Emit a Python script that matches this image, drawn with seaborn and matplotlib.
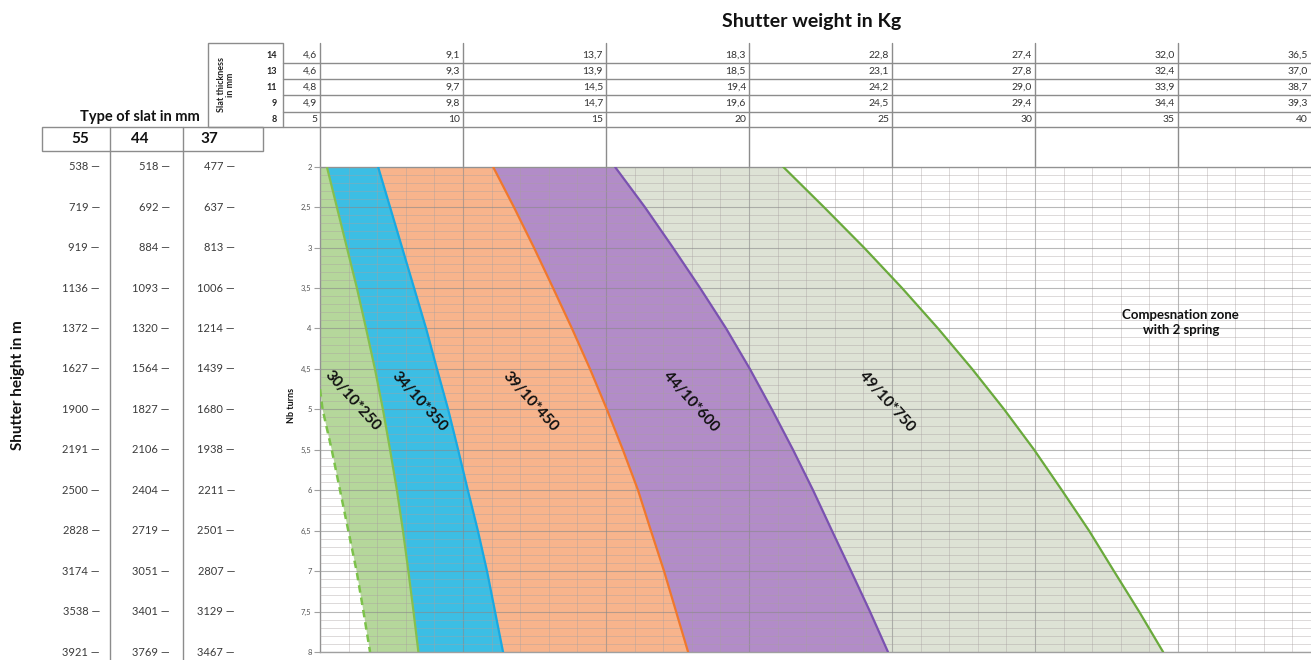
import matplotlib
matplotlib.use("Agg")
import matplotlib.pyplot as plt
import matplotlib.transforms as mtransforms
from matplotlib.patches import Rectangle
from matplotlib.ticker import MultipleLocator, FuncFormatter
import seaborn as sns

W, H = 1311, 660

# ---- data ----
# number of turns of the spring (y axis)
turns = [2, 2.5, 3, 3.5, 4, 4.5, 5, 5.5, 6, 6.5, 7, 7.5, 8]

# lower limit of the 30/10*250 spring (dashed line)
dash_turns = [4.75, 5, 5.5, 6, 6.5, 7, 7.5, 8]
dash_kg = [5.0, 5.09, 5.41, 5.70, 5.99, 6.28, 6.52, 6.75]

# upper limit of each spring: shutter weight (kg, 8 mm slat) per turns
kg_250 = [5.24, 5.59, 5.94, 6.29, 6.61, 6.92, 7.20, 7.45, 7.69, 7.90, 8.09, 8.27, 8.44]
kg_350 = [7.03, 7.45, 7.87, 8.29, 8.71, 9.09, 9.48, 9.83, 10.17, 10.52, 10.84, 11.12, 11.40]
kg_450 = [11.05, 11.78, 12.48, 13.15, 13.81, 14.44, 15.03, 15.59, 16.12, 16.57, 17.03, 17.45, 17.87]
kg_600 = [15.31, 16.36, 17.34, 18.29, 19.20, 20.03, 20.80, 21.54, 22.24, 22.90, 23.57, 24.23, 24.86]
kg_750 = [21.19, 22.62, 24.02, 25.35, 26.61, 27.80, 28.92, 29.97, 30.94, 31.89, 32.76, 33.64, 34.48]

spring_names = ["30/10*250", "34/10*350", "39/10*450", "44/10*600", "49/10*750"]

# shutter height (mm) for each slat type, one per turns value
slat_types = ["55", "44", "37"]
height_55 = [538, 719, 919, 1136, 1372, 1627, 1900, 2191, 2500, 2828, 3174, 3538, 3921]
height_44 = [518, 692, 884, 1093, 1320, 1564, 1827, 2106, 2404, 2719, 3051, 3401, 3769]
height_37 = [477, 637, 813, 1006, 1214, 1439, 1680, 1938, 2211, 2501, 2807, 3129, 3467]

# weight table on top (kg), per slat thickness (mm)
weight_cols = [5, 10, 15, 20, 25, 30, 35, 40]
slat_thickness = ["14", "13", "11", "9", "8"]
weight_14 = ["4,6", "9,1", "13,7", "18,3", "22,8", "27,4", "32,0", "36,5"]
weight_13 = ["4,6", "9,3", "13,9", "18,5", "23,1", "27,8", "32,4", "37,0"]
weight_11 = ["4,8", "9,7", "14,5", "19,4", "24,2", "29,0", "33,9", "38,7"]
weight_9 = ["4,9", "9,8", "14,7", "19,6", "24,5", "29,4", "34,4", "39,3"]
weight_8 = ["5", "10", "15", "20", "25", "30", "35", "40"]

# ---- style ----
sns.set_theme(style="white")
plt.rcParams['font.family'] = ['Lato', 'DejaVu Sans']

c_green_fill = "#b5d79b"
c_blue_fill = "#3cbee4"
c_orange_fill = "#f8b48c"
c_purple_fill = "#b28cc8"
c_grey_fill = "#dde2d5"
line_c = "#8c8c8c"

fig = plt.figure(figsize=(W / 100, H / 100), dpi=100)

# overlay in pixel coords for the side tables
ov = fig.add_axes([0, 0, 1, 1])
ov.set_xlim(0, W)
ov.set_ylim(H, 0)
ov.axis('off')

top_px, bot_px, left_px = 166.7, 652, 320
ax = fig.add_axes([left_px / W, (H - bot_px) / H, (W - left_px) / W, (bot_px - top_px) / H])
ax.set_xlim(5, 39.65)
ax.set_ylim(8, 2)

# bands between springs
green_x = [5.0, 5.0] + dash_kg + kg_250[::-1]
green_y = [2, 4.75] + dash_turns + turns[::-1]
ax.fill(green_x, green_y, color=c_green_fill, lw=0, zorder=1)
bands = [(kg_250, kg_350, c_blue_fill), (kg_350, kg_450, c_orange_fill),
         (kg_450, kg_600, c_purple_fill), (kg_600, kg_750, c_grey_fill)]
for lo, hi, col in bands:
    ax.fill_betweenx(turns, lo, hi, color=col, lw=0, zorder=1)

# spreadsheet-like grid
ax.xaxis.set_major_locator(MultipleLocator(5))
ax.xaxis.set_minor_locator(MultipleLocator(1))
ax.yaxis.set_major_locator(MultipleLocator(0.5))
ax.yaxis.set_minor_locator(MultipleLocator(0.1))
ax.set_axisbelow(False)
ax.grid(which='minor', color='#a89f9f', lw=0.6, alpha=0.45)
ax.grid(which='major', color='#8a8a8a', lw=0.8, alpha=0.6)

# boundary lines
sns.lineplot(x=dash_kg, y=dash_turns, orient="y", sort=False, errorbar=None, ax=ax,
             color="#7cc24a", lw=1.8, linestyle=(0, (3, 2)), zorder=3)
curves = [(kg_250, "#86c04e"), (kg_350, "#19a9e2"), (kg_450, "#f0782d"),
          (kg_600, "#7a52b0"), (kg_750, "#6aaa3c")]
for vals, col in curves:
    sns.lineplot(x=vals, y=turns, orient="y", sort=False, errorbar=None, ax=ax,
                 color=col, lw=1.6, zorder=3)

ax.set_xlabel("")
ax.set_ylabel("")
ax.xaxis.set_major_formatter(FuncFormatter(lambda v, p: ""))
ax.yaxis.set_major_formatter(FuncFormatter(lambda v, p: f"{v:g}".replace(".", ",")))
ax.tick_params(axis='x', which='both', bottom=False, top=False, length=0)
ax.tick_params(axis='y', which='major', left=True, length=4, width=0.8, color='#a0a0a0',
               labelsize=5.5, labelcolor='#555555', pad=2)
ax.tick_params(axis='y', which='minor', left=False, length=0)
for side in ['left', 'bottom', 'top']:
    ax.spines[side].set_color('#a0a0a0')
    ax.spines[side].set_linewidth(1)
ax.spines['right'].set_visible(False)

# spring labels
label_kg = [6.12, 8.46, 12.34, 17.97, 24.83]
for name, xk in zip(spring_names, label_kg):
    ax.text(xk, 4.9, name, rotation=-48, rotation_mode='anchor', ha='center', va='center',
            fontsize=11, fontweight='bold', color='#111111', zorder=4)
ax.text(35.1, 3.93, "Compesnation zone\nwith 2 spring", ha='center', va='center',
        fontsize=9.5, fontweight='bold', color='#111111', linespacing=1.3, zorder=4)

# ---- top weight table ----
tx = mtransforms.blended_transform_factory(ax.transData, ov.transData)
tx_pad = mtransforms.offset_copy(tx, fig=fig, x=-3, y=0, units='dots')
x_right = ax.get_xlim()[1]
for w in weight_cols:
    ov.plot([w, w], [43, top_px], transform=tx, color=line_c, lw=1)
for yy in [63, 79, 95, 111.5, 127]:
    ov.plot([283, W], [yy, yy], color=line_c, lw=1)
row_y = [55, 71, 87, 103.5, 119.5]
weight_rows = [weight_14, weight_13, weight_11, weight_9, weight_8]
for thick, row, yy in zip(slat_thickness, weight_rows, row_y):
    ov.text(277, yy, thick, ha='right', va='center', fontsize=6.5, fontweight='bold', color='#222222')
    for w, lab in zip(weight_cols, row):
        ov.text(min(w, x_right), yy, lab, transform=tx_pad, ha='right', va='center',
                fontsize=7.5, color='#333333')
ov.add_patch(Rectangle((208, 43), 75, 84, fill=False, ec=line_c, lw=1))
ov.text(226, 85, "Slat thickness\nin mm", rotation=90, ha='center', va='center',
        fontsize=6.5, fontweight='bold', linespacing=0.95, color='#222222')

ov.text(812, 22, "Shutter weight in Kg", ha='center', va='center',
        fontsize=14, fontweight='bold', color='#111111')

# ---- left height columns ----
ty = mtransforms.blended_transform_factory(ov.transData, ax.transData)
ov.text(140, 117, "Type of slat in mm", ha='center', va='center',
        fontsize=10.5, fontweight='bold', color='#111111')
ov.add_patch(Rectangle((42, 127), 221, 24, fill=False, ec=line_c, lw=1))
for xx in [110, 183]:
    ov.plot([xx, xx], [127, H], color=line_c, lw=1)
for name, xx in zip(slat_types, [80, 140, 209]):
    ov.text(xx, 139, name, ha='center', va='center', fontsize=11, fontweight='bold', color='#111111')
for col, xx in zip([height_55, height_44, height_37], [100, 170, 235]):
    for t, v in zip(turns, col):
        ov.text(xx, t, f"{v} \u2014", transform=ty, ha='right', va='center',
                fontsize=8, color='#3a3a3a')

ov.text(18, 385, "Shutter height in m", rotation=90, ha='center', va='center',
        fontsize=11, fontweight='bold', color='#111111')
ov.text(291, 405, "Nb turns", rotation=90, ha='center', va='center',
        fontsize=6.5, fontweight='bold', color='#111111')

fig.savefig("out.png", dpi=100)
